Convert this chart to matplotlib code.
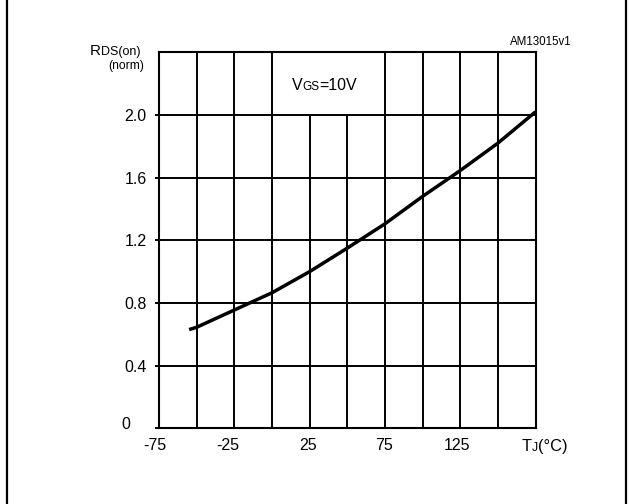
import matplotlib
matplotlib.use("Agg")
import matplotlib.pyplot as plt
import matplotlib.transforms as mtransforms
from matplotlib.lines import Line2D

plt.rcParams['font.family'] = ['Liberation Sans', 'DejaVu Sans']

# normalized on-resistance vs junction temperature
tj = [-55, -50, -25, 0, 25, 50, 75, 100, 125, 150, 175]
rds_norm = [0.63, 0.645, 0.755, 0.865, 1.0, 1.15, 1.305, 1.48, 1.645, 1.82, 2.02]

x_ticks = [-75, -25, 25, 75, 125]
x_tick_labels = ["-75", "-25", "25", "75", "125"]
y_ticks = [0, 0.4, 0.8, 1.2, 1.6, 2.0]
y_tick_labels = ["0", "0.4", "0.8", "1.2", "1.6", "2.0"]
x_grid = [-50, -25, 0, 25, 50, 75, 100, 125, 150]
y_grid = [0.4, 0.8, 1.2, 1.6, 2.0]
box_gap = [25, 50]  # vertical lines that stop under the VGS box

W, H = 629, 504


def px(x, y):
    # pixel position (from top-left) -> figure fraction
    return x / W, 1 - y / H


fig = plt.figure(figsize=(W / 100, H / 100), dpi=100)
ax = fig.add_axes([159 / W, 1 - 428.3 / H, 376.5 / W, 376 / H])

ax.set_xlim(-75, 175)
ax.set_ylim(0, 2.4)

# grid drawn by hand so the label box stays open
for x in x_grid:
    top = 2.0 if x in box_gap else 2.4
    ax.vlines(x, 0, top, color="black", lw=1.4)
ax.hlines(y_grid, -75, 175, color="black", lw=1.4)

ax.plot(tj, rds_norm, color="black", lw=2.5, solid_capstyle="butt")

for s in ax.spines.values():
    s.set_linewidth(1.5)

ax.set_xticks(x_ticks, x_tick_labels)
ax.set_yticks(y_ticks, y_tick_labels)
ax.tick_params(axis="x", length=0, pad=7, labelsize=11.5)
ax.tick_params(axis="y", length=3, width=1.4, direction="out", pad=22, labelsize=11.5)
for lbl in ax.get_yticklabels():
    lbl.set_horizontalalignment("left")
# the "0" sits a little above the bottom line
zero = ax.get_yticklabels()[0]
zero.set_transform(zero.get_transform() +
                   mtransforms.ScaledTranslation(-3 / 100, 5 / 100, fig.dpi_scale_trans))
# x labels sit slightly left of their lines
for lbl, dx in zip(ax.get_xticklabels(), [-4, -7, -1.5, -1, -3]):
    lbl.set_transform(lbl.get_transform() +
                      mtransforms.ScaledTranslation(dx / 100, 0, fig.dpi_scale_trans))

# axis name at the end of the x axis
tl = ax.annotate("T", xy=(175, 0), xycoords=ax.get_xaxis_transform(),
                 xytext=(-10, -7.5), textcoords="offset points",
                 fontsize=11.8, ha="left", va="top")
tj_sub = ax.annotate("J", xy=(1, 0), xycoords=tl, fontsize=8.8,
                     ha="left", va="bottom")
ax.annotate("(°C)", xy=(1, 0), xycoords=tj_sub, fontsize=11.8,
            ha="left", va="bottom")

# y axis name
r = fig.text(*px(90, 55), "R", fontsize=11, ha="left", va="baseline")
ax.annotate("DS(on)", xy=(1, 0), xycoords=r, fontsize=9, ha="left", va="bottom")
fig.text(*px(144, 68.5), "(norm)", fontsize=8.7, ha="right", va="baseline")

# condition label inside the box
v = fig.text(*px(292, 90), "V", fontsize=11.5, ha="left", va="baseline")
gs = ax.annotate("GS", xy=(1, 0), xycoords=v, fontsize=8.5,
                 ha="left", va="bottom")
ax.annotate("=10V", xy=(1, 0), xycoords=gs, fontsize=11.5,
            ha="left", va="bottom")

fig.text(*px(572, 42), "AM13015v1", fontsize=8.3, ha="right", va="center")

# frame around the figure
fig.add_artist(Line2D([7 / W, 7 / W], [0, 1], color="black", lw=1.6))
fig.add_artist(Line2D([625.5 / W, 625.5 / W], [0, 1], color="black", lw=1.6))

fig.savefig("out.png", dpi=100)
